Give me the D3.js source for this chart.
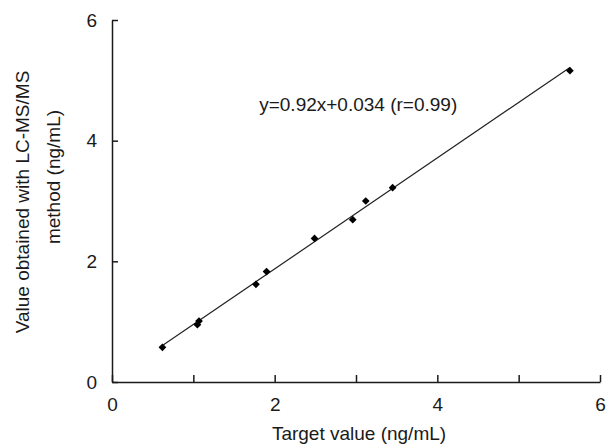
<!DOCTYPE html>
<html>
<head>
<meta charset="utf-8">
<script src="https://cdn.jsdelivr.net/npm/d3@7"></script>
<style>
  body { margin: 0; background: #fff; }
  text { font-family: Arial, "Liberation Sans", sans-serif; fill: #1a1a1a; }
</style>
</head>
<body>
<div id="chart"></div>
<script>
// valores
let target_values = [0.62, 1.05, 1.07, 1.77, 1.90, 2.49, 2.96, 3.12, 3.45, 5.63];
let measured_values = [0.575, 0.95, 1.01, 1.62, 1.83, 2.38, 2.69, 3.00, 3.22, 5.16];
let x_ticks = [0, 1, 2, 3, 4, 5, 6];
let y_ticks = [0, 2, 4, 6];
let fit_slope = 0.92;
let fit_intercept = 0.034;
let equation_label = 'y=0.92x+0.034 (r=0.99)';
let equation_pos = [1.81, 4.6];

let width = 606;
let height = 446;
let font_size = 19;

let svg = d3.select('#chart')
    .append('svg')
    .attr('width', width)
    .attr('height', height);

// escalas
let x_scale = d3.scaleLinear().domain([0, 6]).range([112, 600]);
let y_scale = d3.scaleLinear().domain([0, 6]).range([382, 20]);

// eixos
let x_axis = d3.axisBottom(x_scale)
    .tickValues(x_ticks)
    .tickSizeInner(-7)
    .tickSizeOuter(0)
    .tickPadding(16)
    .tickFormat(d => d % 2 === 0 ? d : '');

svg.append('g')
    .attr('class', 'x-axis')
    .attr('transform', 'translate(0,' + y_scale(0) + ')')
    .call(x_axis);

let y_axis = d3.axisLeft(y_scale)
    .tickValues(y_ticks)
    .tickSizeInner(-6)
    .tickSizeOuter(0)
    .tickPadding(15)
    .tickFormat(d3.format('d'));

svg.append('g')
    .attr('class', 'y-axis')
    .attr('transform', 'translate(' + x_scale(0) + ',0)')
    .call(y_axis);

svg.selectAll('.x-axis, .y-axis').selectAll('path, line')
    .attr('stroke', '#1a1a1a')
    .attr('stroke-width', 1.5);
svg.selectAll('.x-axis text, .y-axis text')
    .attr('font-size', font_size)
    .attr('fill', '#1a1a1a');

// reta de regressão
let x_min = d3.min(target_values);
let x_max = d3.max(target_values);
svg.append('line')
    .attr('x1', x_scale(x_min))
    .attr('y1', y_scale(fit_slope * x_min + fit_intercept))
    .attr('x2', x_scale(x_max))
    .attr('y2', y_scale(fit_slope * x_max + fit_intercept))
    .attr('stroke', '#222')
    .attr('stroke-width', 1.2);

// pontos (losangos)
let points = target_values.map((d, i) => [d, measured_values[i]]);
let diamond = d3.symbol().type(d3.symbolSquare).size(30);

svg.append('g').selectAll('path')
    .data(points)
    .enter()
    .append('path')
    .attr('d', diamond)
    .attr('transform', d => 'translate(' + x_scale(d[0]) + ',' + y_scale(d[1]) + ') rotate(45)')
    .attr('fill', '#000');

// equação
svg.append('text')
    .attr('x', x_scale(equation_pos[0]))
    .attr('y', y_scale(equation_pos[1]))
    .attr('dy', '0.35em')
    .attr('font-size', font_size)
    .text(equation_label);

// títulos dos eixos
svg.append('text')
    .attr('x', 359)
    .attr('y', 440)
    .attr('text-anchor', 'middle')
    .attr('font-size', font_size)
    .text('Target value (ng/mL)');

svg.append('text')
    .attr('transform', 'translate(22,202) rotate(-90)')
    .attr('text-anchor', 'middle')
    .attr('dy', '0.35em')
    .attr('font-size', font_size)
    .text('Value obtained with LC-MS/MS');

svg.append('text')
    .attr('transform', 'translate(53,177) rotate(-90)')
    .attr('text-anchor', 'middle')
    .attr('dy', '0.35em')
    .attr('font-size', font_size)
    .text('method (ng/mL)');
</script>
</body>
</html>
